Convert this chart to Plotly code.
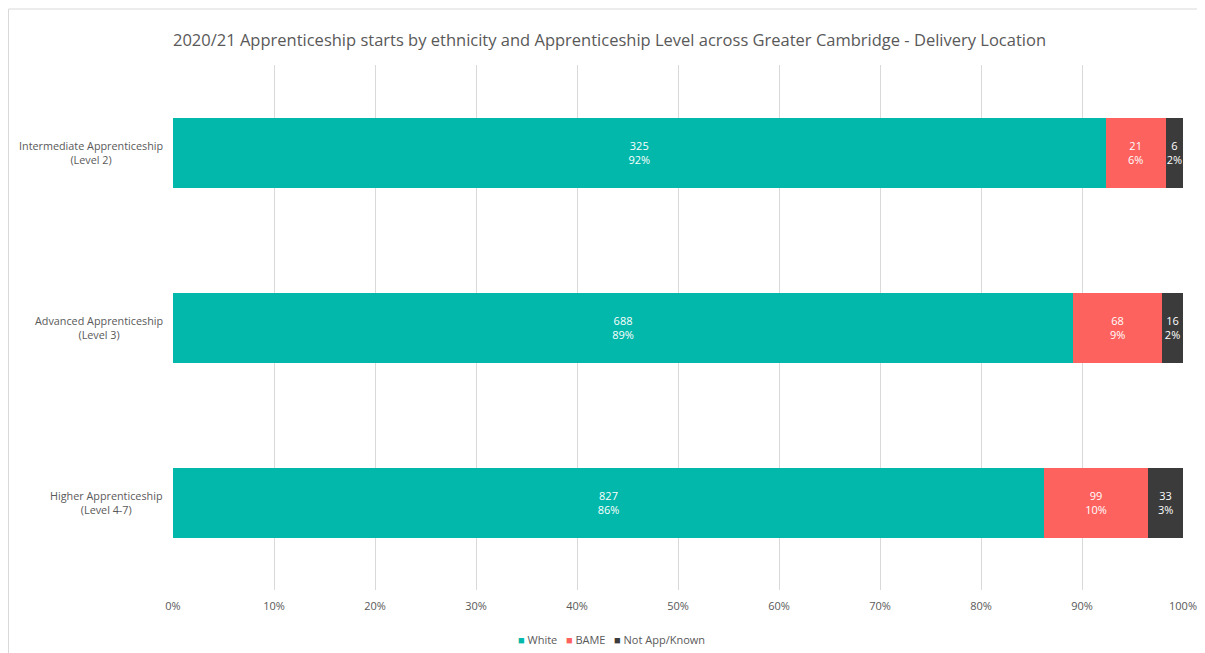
import plotly.graph_objects as go

levels = ["Intermediate Apprenticeship<br>(Level 2)",
          "Advanced Apprenticeship<br>(Level 3)",
          "Higher Apprenticeship<br>(Level 4-7)"]
white = [325, 688, 827]
bame = [21, 68, 99]
not_known = [6, 16, 33]

series = [("White", white, "#01B8AA"),
          ("BAME", bame, "#FD625E"),
          ("Not App/Known", not_known, "#3B3B3B")]

totals = [sum(v) for v in zip(white, bame, not_known)]

# plot area geometry (page is offset 8px by the body margin)
L, T, PW, PH = 165, 57, 1010, 525

fig = go.Figure()
for name, vals, color in series:
    labels = [f"{v}<br>{round(100 * v / t)}%" for v, t in zip(vals, totals)]
    fig.add_trace(go.Bar(
        y=levels, x=vals, name=name, orientation="h",
        marker=dict(color=color, line=dict(width=0)),
        text=labels, textposition="inside", insidetextanchor="middle",
        textfont=dict(color="white", size=11), textangle=0,
        constraintext="none", showlegend=False,
    ))

# centred category labels, as in the original
for lvl in levels:
    fig.add_annotation(x=-8 / PW, y=lvl, xref="paper", yref="y",
                       text=lvl, showarrow=False, xanchor="right", align="center",
                       font=dict(size=10.8, color="#595959"))

# compact legend line
legend_txt = "   ".join(f'<span style="color:{c}">■</span> {n}' for n, _, c in series)
fig.add_annotation(x=(611 - 8 - L) / PW, y=-49 / PH, xref="paper", yref="paper",
                   text=legend_txt, showarrow=False, xanchor="center", yanchor="middle",
                   font=dict(size=11, color="#595959"))

fig.update_layout(
    barmode="stack", barnorm="percent", bargap=0.6,
    width=1197, height=645,
    margin=dict(l=L, r=22, t=T, b=63),
    paper_bgcolor="white", plot_bgcolor="white",
    font=dict(family="Open Sans, sans-serif", color="#595959", size=11),
    title=dict(text="2020/21 Apprenticeship starts by ethnicity and Apprenticeship Level across Greater Cambridge - Delivery Location",
               x=0.5025, xanchor="center", y=0.95, yanchor="middle",
               font=dict(size=16.5, color="#595959")),
    showlegend=False,
    uniformtext=dict(minsize=11, mode="show"),
)
fig.update_xaxes(range=[0, 100], dtick=10, ticksuffix="%", showgrid=True,
                 gridcolor="#D9D9D9", gridwidth=1, zeroline=False, showline=False,
                 tickfont=dict(size=11, color="#595959"), ticks="",
                 ticklabelstandoff=8, automargin=False)
fig.update_yaxes(categoryorder="array", categoryarray=levels[::-1],
                 showgrid=False, showline=False, ticks="", showticklabels=False,
                 automargin=False)

fig.add_shape(type="rect", xref="paper", yref="paper",
              x0=(-L + 0.5) / PW, x1=1.05, y0=-0.2, y1=1 + (T - 1) / PH,
              line=dict(color="#D9D9D9", width=1), fillcolor="rgba(0,0,0,0)", layer="below")

fig.write_html("out.html")
